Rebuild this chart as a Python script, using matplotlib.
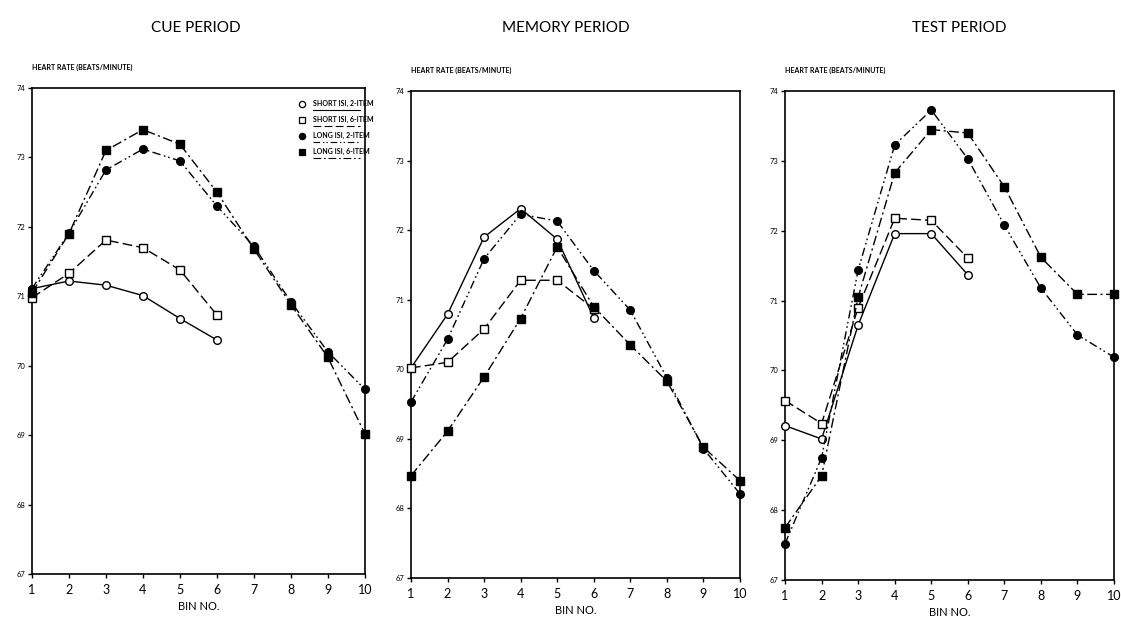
import matplotlib
matplotlib.use("Agg")
import matplotlib.pyplot as plt
import numpy as np

plt.rcParams['font.family'] = ['Lato', 'DejaVu Sans']

bins = np.arange(1, 11)
short_bins = np.arange(1, 7)

series_names = ["SHORT ISI, 2-ITEM", "SHORT ISI, 6-ITEM",
                "LONG ISI, 2-ITEM", "LONG ISI, 6-ITEM"]
period_titles = ["CUE PERIOD", "MEMORY PERIOD", "TEST PERIOD"]

# heart rate (beats/minute) per bin; short ISI trials have only 6 bins
cue_short_2 = [71.11, 71.22, 71.16, 71.01, 70.68, 70.37]
cue_short_6 = [70.98, 71.33, 71.81, 71.70, 71.38, 70.73]
cue_long_2 = [71.11, 71.91, 72.82, 73.12, 72.95, 72.30, 71.72, 70.92, 70.20, 69.66]
cue_long_6 = [71.05, 71.90, 73.10, 73.40, 73.19, 72.50, 71.68, 70.88, 70.12, 69.02]

mem_short_2 = [70.02, 70.79, 71.90, 72.31, 71.87, 70.74]
mem_short_6 = [70.02, 70.10, 70.58, 71.28, 71.28, 70.87]
mem_long_2 = [69.53, 70.43, 71.59, 72.23, 72.13, 71.42, 70.85, 69.88, 68.86, 68.21]
mem_long_6 = [68.47, 69.11, 69.89, 70.73, 71.76, 70.90, 70.35, 69.83, 68.88, 68.40]

test_short_2 = [69.21, 69.02, 70.65, 71.96, 71.96, 71.37]
test_short_6 = [69.57, 69.24, 70.90, 72.18, 72.15, 71.61]
test_long_2 = [67.52, 68.75, 71.44, 73.23, 73.73, 73.03, 72.08, 71.18, 70.51, 70.19]
test_long_6 = [67.75, 68.49, 71.05, 72.83, 73.45, 73.40, 72.63, 71.62, 71.09, 71.09]

periods = [
    (cue_short_2, cue_short_6, cue_long_2, cue_long_6),
    (mem_short_2, mem_short_6, mem_long_2, mem_long_6),
    (test_short_2, test_short_6, test_long_2, test_long_6),
]

# marker, face colour, line style for each condition
styles = [
    ("o", "white", "-"),
    ("s", "white", (0, (7, 3))),
    ("o", "black", (0, (6, 2.5, 1.2, 2, 1.2, 2.5))),
    ("s", "black", (0, (7, 2.5, 1.5, 2.5))),
]

fig = plt.figure(figsize=(11.21, 6.18), dpi=100)
axes_pos = [
    [0.0285, 0.0712, 0.297, 0.7864],
    [0.3666, 0.0647, 0.2935, 0.788],
    [0.7003, 0.0615, 0.2935, 0.791],
]
title_x = [0.175, 0.505, 0.856]

for k, (pos, data) in enumerate(zip(axes_pos, periods)):
    ax = fig.add_axes(pos)
    for vals, (mk, fc, ls) in zip(data, styles):
        xs = short_bins if len(vals) == 6 else bins
        ax.plot(xs, vals, color="black", lw=1.0, linestyle=ls, marker=mk,
                markersize=5.5, markerfacecolor=fc, markeredgecolor="black",
                markeredgewidth=1.0, clip_on=False, zorder=3)
    ax.set_xlim(1, 10)
    ax.set_ylim(67, 74)
    ax.set_xticks(bins)
    ax.set_yticks(np.arange(67, 75))
    ax.tick_params(axis="y", direction="out", length=3, width=1, labelsize=5.5, pad=2)
    ax.tick_params(axis="x", direction="out", length=3, width=1, labelsize=9, pad=4)
    for sp in ax.spines.values():
        sp.set_linewidth(1.2)
    ax.text(0.0, 1.035, "HEART RATE (BEATS/MINUTE)", transform=ax.transAxes,
            fontsize=5, fontweight="bold", ha="left", va="bottom")
    ax.text(0.5, -0.055, "BIN NO.", transform=ax.transAxes, fontsize=8,
            ha="center", va="top")
    fig.text(title_x[k], 0.955, period_titles[k], fontsize=11, ha="center", va="center")

    if k == 0:
        # condition key with line style shown under each label
        rows = [0.968, 0.935, 0.902, 0.869]
        for yy, name, (mk, fc, ls) in zip(rows, series_names, styles):
            ax.plot([0.81], [yy], transform=ax.transAxes, marker=mk, markersize=4.5,
                    markerfacecolor=fc, markeredgecolor="black", markeredgewidth=0.9,
                    linestyle="none", clip_on=False)
            ax.text(0.845, yy, name, transform=ax.transAxes, fontsize=5,
                    fontweight="bold", ha="left", va="center")
            ax.plot([0.845, 0.985], [yy - 0.013, yy - 0.013], transform=ax.transAxes,
                    color="black", lw=0.8, linestyle=ls, clip_on=False)

fig.savefig("out.png", dpi=100)
